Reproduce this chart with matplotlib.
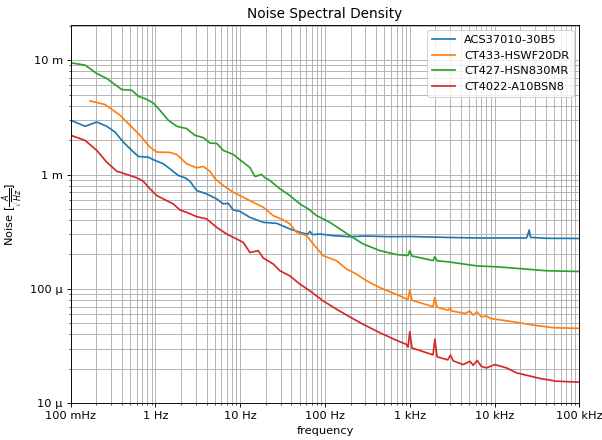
import matplotlib
matplotlib.use("Agg")
import matplotlib.pyplot as plt
import matplotlib.ticker as ticker
import numpy as np

# noise density values are read in uA/sqrt(Hz)
f_acs = [0.1, 0.1475, 0.2026, 0.266, 0.333, 0.417, 0.524, 0.627, 0.822, 0.986,
         1.236, 1.48, 1.86, 2.23, 2.55, 3.06, 4.02, 5.27, 6.30, 7.22, 8.27, 9.92,
         13.0, 18.7, 26.9, 38.5, 50.6, 62, 66.4, 71, 87.1, 125, 197, 300, 582,
         1000, 2716, 6673, 23800, 24600, 25600, 26600, 40000, 1e5]
n_acs = [2980, 2640, 2876, 2640, 2350, 1920, 1625, 1438, 1418, 1327,
         1241, 1122, 980, 936, 874, 724, 677, 612, 553, 560, 490, 476,
         422, 382, 374, 334, 312, 300, 318, 298, 302, 292, 286, 290, 286,
         287, 282, 278.5, 278.5, 295, 327, 282, 277, 276]

f_ct433 = [0.169, 0.254, 0.3825, 0.5006, 0.656, 0.861, 1.033, 1.48, 1.78, 2.33,
           3.06, 3.66, 4.39, 5.03, 6.30, 8.27, 10.85, 13.0, 18.7, 24.5, 32.1,
           38.5, 46.2, 60.7, 72.6, 95.3, 137, 180, 236, 310, 444, 764, 950,
           1000, 1060, 1880, 1977, 2100, 2850, 2980, 3150, 4500, 5100, 5600,
           6200, 7000, 8000, 9000, 10560, 16560, 28500, 49100, 1e5]
n_ct433 = [4395, 4090, 3292, 2690, 2200, 1736, 1570, 1560, 1497, 1241,
           1145, 1175, 1069, 918, 801, 700, 632, 591, 517, 437, 401,
           370, 312, 292, 247, 195, 176, 149, 134.5, 117.5, 102.6, 86.9, 80.5,
           97.4, 79.5, 70, 83.9, 69, 65, 68.1, 64, 61, 64, 59,
           63, 57, 58, 55, 54.2, 51.6, 48.3, 45.8, 45.2]

f_ct427 = [0.1, 0.1475, 0.2026, 0.266, 0.3995, 0.524, 0.627, 0.752, 0.942, 1.13,
           1.416, 1.78, 2.33, 2.92, 3.66, 4.39, 5.27, 6.30, 8.27, 9.92, 13.0,
           14.9, 17.9, 19.6, 22.4, 29.4, 38.5, 50.6, 63.4, 79.6, 114, 150, 197,
           282, 444, 698, 950, 1000, 1060, 1880, 1977, 2100, 2836, 6137, 10560,
           23800, 41000, 1e5]
n_ct427 = [9470, 9040, 7640, 6910, 5530, 5460, 4830, 4610, 4220, 3640,
           2980, 2640, 2520, 2200, 2100, 1883, 1870, 1625, 1497, 1345, 1150,
           960, 1000, 936, 886, 749, 655, 553, 500, 437, 382, 334, 292,
           247, 216, 199.6, 196, 216, 194, 177, 191, 176, 172.5, 159, 156,
           149, 144, 142]

f_ct4022 = [0.1, 0.1475, 0.2026, 0.266, 0.3487, 0.5006, 0.6, 0.718, 0.861, 1.033,
            1.355, 1.62, 1.945, 2.33, 3.06, 4.02, 5.27, 6.91, 9.07, 10.85, 13.0,
            16.3, 18.7, 24.5, 29.4, 38.5, 50.6, 66.4, 95.3, 137, 197, 282, 444,
            698, 916, 955, 1000, 1060, 1880, 1977, 2100, 2800, 3027, 3250, 4266,
            5117, 5600, 6237, 7000, 8054, 10080, 13850, 18160, 23800, 34200,
            53800, 1e5]
n_ct4022 = [2200, 1987, 1625, 1281, 1069, 980, 936, 874, 749, 655,
            591, 553, 490, 467, 428, 409, 345, 302, 273, 255, 208,
            216, 186, 165, 144, 130, 110, 96, 78.5, 66.4, 56.8, 49.0, 41.4,
            35.5, 32.7, 31, 42.2, 30.5, 26.5, 36.2, 25.5, 24, 26.4, 23.5, 21.8,
            23.3, 21.5, 23.7, 21, 20.4, 21.8, 20.4, 18.45, 17.6, 16.5,
            15.6, 15.3]

labels = ["ACS37010-30B5", "CT433-HSWF20DR", "CT427-HSN830MR", "CT4022-A10BSN8"]
series = [(f_acs, n_acs), (f_ct433, n_ct433), (f_ct427, n_ct427), (f_ct4022, n_ct4022)]

dpi = 82
fig, ax = plt.subplots(figsize=(602 / dpi, 440 / dpi), dpi=dpi)
fig.subplots_adjust(left=0.1175, right=0.9623, bottom=0.0834, top=0.9439)

for (f, n), lab in zip(series, labels):
    ax.loglog(f, np.array(n) * 1e-6, label=lab)

ax.set_xlim(0.1, 1e5)
ax.set_ylim(1e-5, 2.04e-2)
ax.xaxis.set_major_formatter(ticker.EngFormatter(unit="Hz"))
ax.yaxis.set_major_formatter(ticker.EngFormatter())
ax.xaxis.set_minor_formatter(ticker.NullFormatter())
ax.yaxis.set_minor_formatter(ticker.NullFormatter())
ax.grid(True, which="both")

ax.set_title("Noise Spectral Density")
ax.set_xlabel("frequency")
ax.set_ylabel(r"Noise [$\frac{A}{\sqrt{Hz}}$]")
ax.legend(loc="upper right")

fig.savefig("out.png", dpi=dpi)
